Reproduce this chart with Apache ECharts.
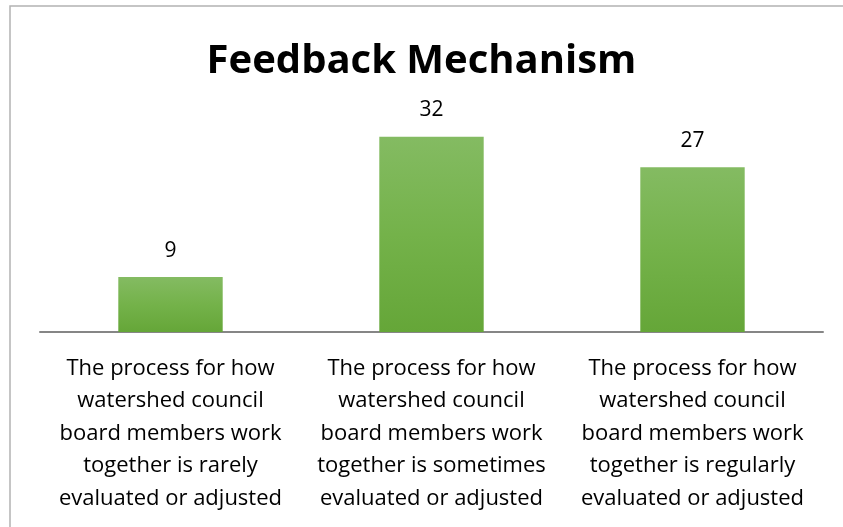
<!DOCTYPE html>
<html>
<head>
<meta charset="utf-8">
<script src="https://cdn.jsdelivr.net/npm/echarts@6/dist/echarts.min.js"></script>
<style>
  html, body { margin: 0; padding: 0; background: #fff; }
  #chart { width: 843px; height: 527px; }
</style>
</head>
<body>
<div id="chart"></div>
<script>
const categories = [
  'The process for how\nwatershed council\nboard members work\ntogether is rarely\nevaluated or adjusted',
  'The process for how\nwatershed council\nboard members work\ntogether is sometimes\nevaluated or adjusted',
  'The process for how\nwatershed council\nboard members work\ntogether is regularly\nevaluated or adjusted'
];
const values = [9, 32, 27];

const font = '"Open Sans", "Noto Sans", sans-serif';

const chart = echarts.init(document.getElementById('chart'));
chart.setOption({
  animation: false,
  backgroundColor: '#fff',
  graphic: [
    {
      type: 'rect',
      shape: { x: 10, y: 6, width: 900, height: 600 },
      style: { fill: 'none', stroke: '#b3b3b3', lineWidth: 1.5 },
      silent: true
    }
  ],
  title: {
    text: 'Feedback Mechanism',
    left: 'center',
    top: 37,
    textStyle: {
      fontFamily: font,
      fontWeight: 'bold',
      fontSize: 40,
      color: '#000'
    }
  },
  grid: {
    left: 40,
    right: 20,
    top: 118.5,
    bottom: 195
  },
  xAxis: {
    type: 'category',
    data: categories,
    axisLine: { show: true, lineStyle: { color: '#868686', width: 2 } },
    axisTick: { show: false },
    axisLabel: {
      interval: 0,
      margin: 20,
      fontFamily: font,
      fontSize: 22,
      color: '#000',
      lineHeight: 32.5
    }
  },
  yAxis: {
    type: 'value',
    min: 0,
    max: 35,
    show: false,
    splitLine: { show: false }
  },
  series: [
    {
      type: 'bar',
      data: values,
      barWidth: '40%',
      itemStyle: {
        color: new echarts.graphic.LinearGradient(0, 0, 0, 1, [
          { offset: 0, color: '#84bb62' },
          { offset: 0.5, color: '#74b24a' },
          { offset: 1, color: '#65a638' }
        ])
      },
      label: {
        show: true,
        position: 'top',
        distance: 16,
        fontFamily: font,
        fontSize: 21,
        color: '#000'
      }
    }
  ]
});
</script>
</body>
</html>
